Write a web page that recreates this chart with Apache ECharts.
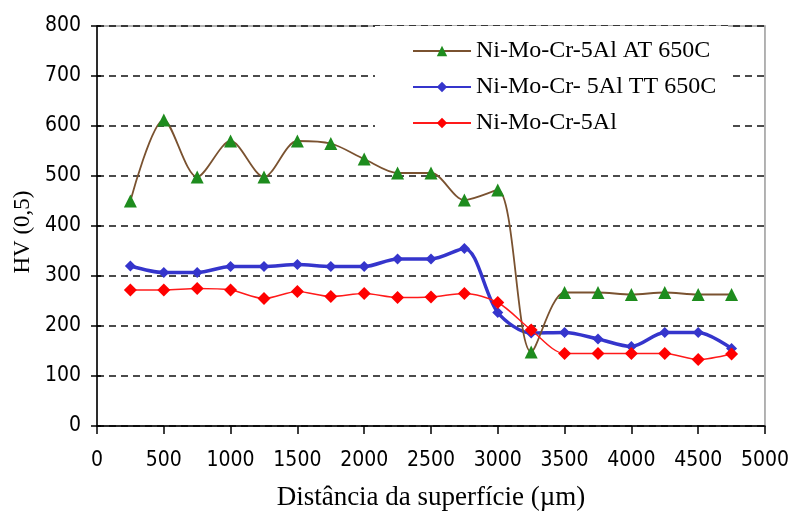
<!DOCTYPE html>
<html>
<head>
<meta charset="utf-8">
<script src="https://cdn.jsdelivr.net/npm/echarts@6/dist/echarts.min.js"></script>
<style>
  html, body { margin: 0; padding: 0; background: #ffffff; }
  #chart { width: 792px; height: 523px; }
</style>
</head>
<body>
<div id="chart"></div>
<script>
// Microhardness profiles: distance from the surface (µm) vs HV (0,5)
const distances = [250, 500, 750, 1000, 1250, 1500, 1750, 2000, 2250, 2500,
                   2750, 3000, 3250, 3500, 3750, 4000, 4250, 4500, 4750];

const seriesNames = ['Ni-Mo-Cr-5Al AT 650C', 'Ni-Mo-Cr- 5Al TT 650C', 'Ni-Mo-Cr-5Al'];

const hvAT650 = [450, 612, 498, 570, 498, 570, 565, 534, 506, 506,
                 452, 472, 148, 267, 267, 263, 267, 263, 263];
const hvTT650 = [320, 307, 307, 319, 319, 323, 319, 319, 334, 334,
                 355, 227, 186, 187, 174, 159, 187, 187, 155];
const hvBase  = [272, 272, 275, 272, 255, 269, 259, 265, 257, 258,
                 265, 247, 192, 145, 145, 145, 145, 133, 144];

const xTicks = { min: 0, max: 5000, step: 500 };
const yTicks = { min: 0, max: 800, step: 100 };

const pairs = ys => distances.map((d, i) => [d, ys[i]]);

const tickFont = {
  fontFamily: '"Liberation Sans Narrow", "DejaVu Sans Condensed", "Liberation Sans", Arial, sans-serif',
  fontSize: 21,
  color: '#000'
};
const serif = '"Liberation Serif", "Times New Roman", serif';

const chart = echarts.init(document.getElementById('chart'), null, { renderer: 'canvas' });

chart.setOption({
  backgroundColor: '#ffffff',
  animation: false,
  grid: {
    left: 97, right: 25, top: 26, bottom: 97,
    show: true, borderColor: '#9a9a9a', borderWidth: 1.5, backgroundColor: 'transparent'
  },
  legend: {
    orient: 'vertical',
    left: 375, top: 26,
    padding: [13, 12, 14, 37],
    backgroundColor: '#ffffff',
    itemWidth: 58, itemHeight: 13, itemGap: 12,
    textStyle: { fontFamily: serif, fontSize: 24, color: '#000' },
    data: seriesNames
  },
  xAxis: {
    type: 'value',
    min: xTicks.min, max: xTicks.max, interval: xTicks.step,
    name: 'Distância da superfície (µm)',
    nameLocation: 'middle', nameGap: 58,
    nameTextStyle: { fontFamily: serif, fontSize: 27, color: '#000' },
    axisLine: { show: true, lineStyle: { color: '#000', width: 1.5 } },
    axisTick: { show: true, inside: false, length: 8, lineStyle: { color: '#000', width: 1.5 } },
    axisLabel: Object.assign({ margin: 24, formatter: v => String(v) }, tickFont),
    splitLine: { show: false }
  },
  yAxis: [{
    type: 'value',
    min: yTicks.min, max: yTicks.max, interval: yTicks.step,
    name: 'HV (0,5)',
    nameLocation: 'middle', nameGap: 62, nameRotate: 90,
    nameTextStyle: { fontFamily: serif, fontSize: 23, color: '#000', padding: [0, 12, 0, 0] },
    axisLine: { show: true, lineStyle: { color: '#000', width: 1.5 } },
    axisTick: { show: true, inside: false, length: 6, lineStyle: { color: '#000', width: 1.5 } },
    axisLabel: Object.assign({ margin: 16, formatter: v => String(v) }, tickFont),
    splitLine: { show: true, lineStyle: { color: '#111', width: 1.5, type: [7, 5] } }
  }, {
    // inner half of the crossing tick marks
    type: 'value', position: 'left',
    min: yTicks.min, max: yTicks.max, interval: yTicks.step,
    axisLine: { show: false },
    axisTick: { show: true, inside: true, length: 4, lineStyle: { color: '#000', width: 1.5 } },
    axisLabel: { show: false },
    splitLine: { show: false }
  }],
  series: [{
    name: seriesNames[0],
    type: 'line',
    data: pairs(hvAT650),
    smooth: 0.3,
    symbol: 'triangle', symbolSize: 13,
    itemStyle: { color: '#1e8c1e' },
    lineStyle: { color: '#7a5230', width: 1.8 },
    z: 3
  }, {
    name: seriesNames[1],
    type: 'line',
    data: pairs(hvTT650),
    smooth: 0.3,
    symbol: 'diamond', symbolSize: 11,
    itemStyle: { color: '#3535cc' },
    lineStyle: { color: '#3535cc', width: 3.5 },
    z: 2
  }, {
    name: seriesNames[2],
    type: 'line',
    data: pairs(hvBase),
    smooth: 0.3,
    symbol: 'diamond', symbolSize: 13,
    itemStyle: { color: '#ff0000' },
    lineStyle: { color: '#ff1a1a', width: 1.5 },
    z: 4
  }]
});
</script>
</body>
</html>
